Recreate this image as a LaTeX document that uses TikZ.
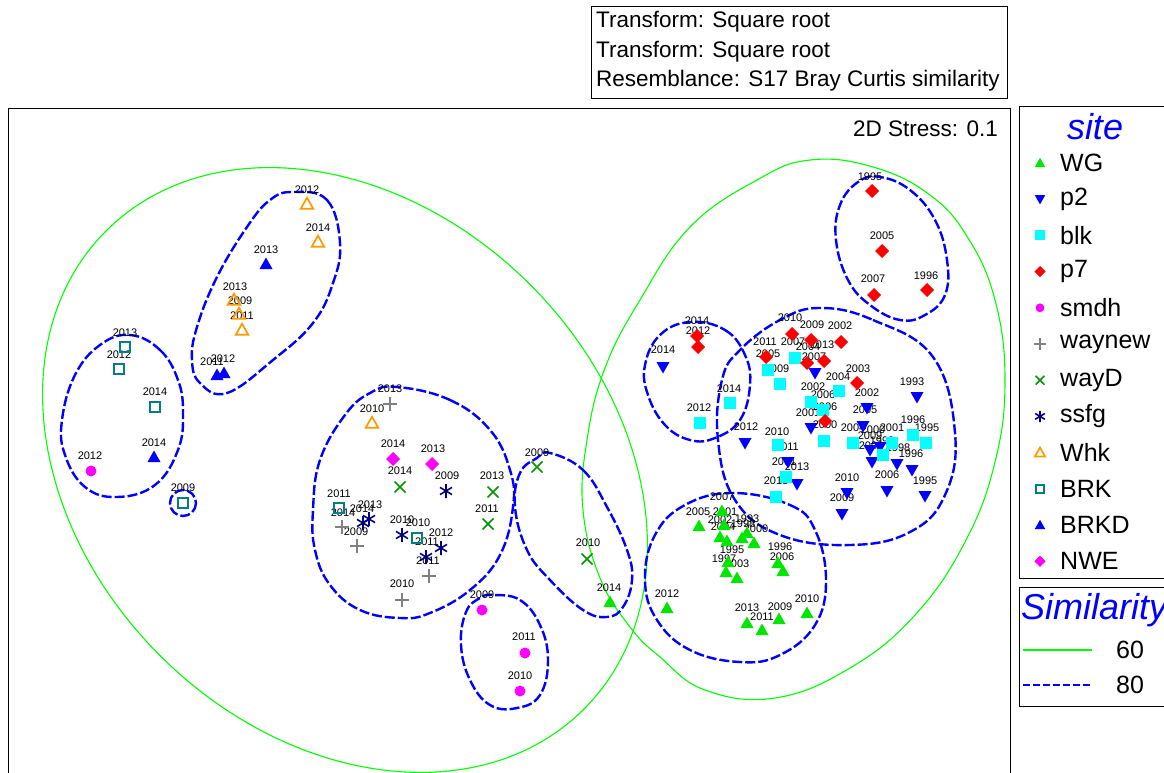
\documentclass[tikz,border=0pt]{standalone}
\usepackage{fontspec}
\setmainfont{Liberation Sans}
\definecolor{wgc}{RGB}{0,230,0}
\definecolor{lgreen}{RGB}{0,255,0}
\definecolor{bluec}{RGB}{0,0,255}
\definecolor{cyanc}{RGB}{0,255,255}
\definecolor{redc}{RGB}{255,0,0}
\definecolor{magc}{RGB}{255,0,255}
\definecolor{grayc}{RGB}{128,128,128}
\definecolor{wdc}{RGB}{0,150,0}
\definecolor{navyc}{RGB}{0,0,128}
\definecolor{orangec}{RGB}{255,153,0}
\definecolor{tealc}{RGB}{0,128,128}
\begin{document}
\begin{tikzpicture}[x=1pt,y=-1pt,
  lab/.style={font=\fontsize{11}{12}\selectfont,inner sep=0pt},
  legtext/.style={font=\fontsize{25}{26}\selectfont,inner sep=0pt,anchor=west},
  boxtext/.style={font=\fontsize{22.5}{24}\selectfont,inner sep=0pt,anchor=west},
  legtitle/.style={font=\fontsize{36}{38}\selectfont\itshape,text=bluec,inner sep=0pt},
  sim60/.style={draw=lgreen,line width=1.1pt},
  sim80/.style={draw=bluec,line width=2.4pt,dash pattern=on 10pt off 3pt},
  frame/.style={draw=black,line width=0.8pt},
  wg/.pic={\fill[wgc] (-6.5,5) -- (6.5,5) -- (0,-6.5) -- cycle;},
  ptwo/.pic={\fill[bluec] (-6.5,-5) -- (6.5,-5) -- (0,6.5) -- cycle;},
  blk/.pic={\fill[cyanc] (-6.3,-6.3) rectangle (6.3,6.3);},
  pseven/.pic={\fill[redc] (-7,0) -- (0,-7) -- (7,0) -- (0,7) -- cycle;},
  smdh/.pic={\fill[magc] (0,0) circle (5.5);},
  waynew/.pic={\draw[grayc,line width=1.6pt] (-7,0) -- (7,0) (0,-7) -- (0,7);},
  wayd/.pic={\draw[wdc,line width=1.6pt] (-5.5,-5.5) -- (5.5,5.5) (-5.5,5.5) -- (5.5,-5.5);},
  ssfg/.pic={\draw[navyc,line width=1.6pt] (0,-7) -- (0,7) (-6,-3.6) -- (6,3.6) (-6,3.6) -- (6,-3.6);},
  whk/.pic={\draw[orangec,line width=1.7pt,line join=miter] (-6.3,4.8) -- (6.3,4.8) -- (0,-6.3) -- cycle;},
  brk/.pic={\draw[tealc,line width=1.7pt] (-5,-5) rectangle (5,5);},
  brkd/.pic={\fill[bluec] (-6.5,5) -- (6.5,5) -- (0,-6.5) -- cycle;},
  nwe/.pic={\fill[magc] (-7,0) -- (0,-7) -- (7,0) -- (0,7) -- cycle;},
]
\useasboundingbox (0,0) rectangle (1164,773);
\clip (0,0) rectangle (1164,773);
\fill[white] (0,0) rectangle (1164,773);

% header box
\draw[frame] (591,6) rectangle (1007,98);
\node[boxtext] (h1) at (596,22) {Transform: Square root};
\node[boxtext] (h2) at (596,52) {Transform: Square root};
\node[boxtext] (h3) at (596,81) {Resemblance: S17 Bray Curtis similarity};

% plot frame
\draw[frame] (8,790) -- (8,108) -- (1010,108) -- (1010,790);
\node[boxtext,anchor=east] (stress) at (998,129) {2D Stress: 0.1};

% 60% contours
\draw[sim60,rotate around={-45:(345,470)}] (345,470) ellipse [x radius=338, y radius=262];
\draw[sim60] plot[smooth cycle,tension=0.7] coordinates {(810,160) (873,167) (930,195) (968,238) (995,300) (1005,380) (995,462) (965,542) (915,615) (850,668) (775,698) (705,690) (660,657) (630,627) (600,578) (583,510) (587,440) (605,368) (640,300) (690,227) (757,180)};

% 80% contours
\draw[sim80] plot[smooth cycle,tension=0.7] coordinates {(293,192) (327,200) (340,243) (333,283) (313,323) (273,360) (227,393) (200,383) (192,360) (197,327) (217,277) (247,227) (270,200)};
\draw[sim80] plot[smooth cycle,tension=0.7] coordinates {(130,335) (160,350) (178,380) (183,413) (178,450) (155,485) (117,497) (85,487) (65,455) (62,420) (75,375) (100,345)};
\draw[sim80] (183,503) circle (13);
\draw[sim80] plot[smooth cycle,tension=0.7] coordinates {(397,387) (450,400) (490,430) (510,470) (513,507) (500,555) (470,590) (430,613) (400,618) (360,610) (330,585) (315,550) (313,510) (320,460) (345,415) (370,393)};
\draw[sim80] plot[smooth cycle,tension=0.7] coordinates {(550,453) (583,470) (607,507) (627,550) (632,580) (623,607) (607,617) (583,610) (550,580) (527,550) (515,507) (520,473) (537,458)};
\draw[sim80] plot[smooth cycle,tension=0.7] coordinates {(493,595) (520,600) (540,625) (548,660) (540,695) (517,708) (490,705) (470,680) (461,645) (466,612) (480,598)};
\draw[sim80] plot[smooth cycle,tension=0.7] coordinates {(880,177) (910,190) (935,220) (947,260) (945,295) (925,315) (900,320) (870,305) (848,280) (836,240) (840,205) (858,182)};
\draw[sim80] plot[smooth cycle,tension=0.7] coordinates {(690,322) (725,330) (745,355) (750,385) (740,420) (715,438) (690,440) (665,425) (648,395) (645,365) (660,335)};
\draw[sim80] plot[smooth cycle,tension=0.7] coordinates {(820,308) (873,320) (933,357) (955,433) (945,495) (910,532) (850,545) (780,535) (735,500) (718,440) (722,380) (740,350) (780,320)};
\draw[sim80] plot[smooth cycle,tension=0.7] coordinates {(733,493) (790,505) (815,530) (826,580) (815,625) (780,655) (740,662) (690,650) (657,620) (645,580) (655,535) (685,505)};

% point labels
\foreach \t/\x/\y in {2012/307/190, 2014/318/228, 2013/235/287, 2009/240/301, 2011/242/316, 2010/372/409,
 2013/266/250, 2011/212/362, 2012/223/359, 2014/154/443,
 2013/125/333, 2012/119/355, 2014/155/392, 2009/183/488, 2011/339/494, 2010/418/523,
 2012/90/456, 2009/482/595, 2011/524/637, 2010/520/676,
 2014/393/444, 2013/433/449,
 2014/400/471, 2013/492/476, 2011/487/509, 2009/537/453, 2010/588/543,
 2009/447/476, 2013/370/505, 2014/362/509, 2010/402/520, 2012/441/533, 2011/427/542,
 2013/390/389, 2014/343/513, 2009/356/532, 2011/428/561, 2010/402/584,
 2007/722/497, 2005/698/512, 2001/725/512, 2002/720/520, 2004/723/527, 1993/747/519, 1998/743/524, 2000/756/529, 1995/732/550, 1997/724/559, 2003/737/564, 1996/780/547, 2006/782/557, 2012/667/594, 2013/747/608, 2011/762/617, 2009/780/607, 2010/807/599, 2014/609/588,
 1995/870/177, 2005/882/236, 2007/873/279, 1996/926/276, 2014/697/321, 2012/698/331, 2010/790/318, 2009/812/325, 2002/840/326, 2011/765/342, 2007/793/342, 2004/808/347, 2013/822/345, 2005/768/354, 2007/814/357, 2009/777/369, 2003/858/369, 2004/838/377, 2002/813/387, 2006/823/395, 2006/825/407, 2002/867/393, 2005/865/410, 2000/825/425, 2001/808/413,
 2014/663/350, 2014/729/389, 2012/699/408, 2012/746/427, 2010/777/432, 2011/787/447, 2001/784/462, 2013/797/467, 2013/776/481, 1993/912/382, 1996/913/420, 1995/927/428, 2001/892/428, 2004/853/428, 2000/873/430, 2009/870/436, 1999/882/441, 2003/871/446, 1998/898/448, 1996/911/454, 2006/887/475, 1995/925/481, 2010/847/478, 2009/842/498}
  \node[lab] at (\x,\y) {\t};

% markers
\foreach \x/\y in {722/511, 699/526, 724/525, 720/537, 727/541, 747/533, 742/538, 754/543, 728/562, 726/572, 737/578, 778/563, 783/571, 667/608, 747/623, 762/630, 779/619, 807/613, 610/602} \pic at (\x,\y) {wg};
\foreach \x/\y in {663/367, 745/443, 815/373, 811/428, 867/408, 863/426, 917/397, 870/450, 872/462, 880/447, 897/464, 912/470, 887/491, 925/496, 847/493, 842/514, 788/462, 797/484} \pic at (\x,\y) {ptwo};
\foreach \x/\y in {730/403, 700/423, 795/358, 768/370, 780/384, 839/391, 811/402, 823/410, 778/445, 824/441, 786/477, 776/497, 853/443, 892/443, 883/455, 913/435, 926/443} \pic at (\x,\y) {blk};
\foreach \x/\y in {872/191, 882/251, 874/295, 927/290, 697/336, 698/347, 792/334, 811/340, 841/342, 766/357, 807/363, 824/361, 857/383, 825/421} \pic at (\x,\y) {pseven};
\foreach \x/\y in {91/471, 482/610, 525/653, 520/691} \pic at (\x,\y) {smdh};
\foreach \x/\y in {390/404, 342/527, 357/546, 429/576, 402/600} \pic at (\x,\y) {waynew};
\foreach \x/\y in {400/487, 493/492, 488/524, 537/467, 587/559} \pic at (\x,\y) {wayd};
\foreach \x/\y in {446/491, 369/519, 363/523, 402/535, 441/548, 426/557} \pic at (\x,\y) {ssfg};
\foreach \x/\y in {307/204, 318/242, 234/300, 239/314, 242/330, 372/423} \pic at (\x,\y) {whk};
\foreach \x/\y in {125/347, 119/369, 155/407, 183/503, 339/508, 417/538} \pic at (\x,\y) {brk};
\foreach \x/\y in {266/264, 217/375, 224/373, 154/457} \pic at (\x,\y) {brkd};
\foreach \x/\y in {393/459, 432/464} \pic at (\x,\y) {nwe};

% legend: site
\draw[frame] (1019,106) rectangle (1175,578);
\node[legtitle] (sitet) at (1095,127) {site};
\foreach \p/\t [count=\i from 0] in {wg/WG, ptwo/p2, blk/blk, pseven/p7, smdh/smdh, waynew/waynew, wayd/wayD, ssfg/ssfg, whk/Whk, brk/BRK, brkd/BRKD, nwe/NWE}{
  \pic[scale=0.8] at (1040,163+36.2*\i) {\p};
  \node[legtext] at (1060,163+36.2*\i) {\t};
}

% legend: similarity
\draw[frame] (1019,587) rectangle (1175,706);
\node[legtitle,anchor=west] (simt) at (1021,610) {Similarity};
\coordinate (l60a) at (1023,650); \coordinate (l60b) at (1092,650);
\coordinate (l80a) at (1023,685); \coordinate (l80b) at (1092,685);
\draw[sim60] (l60a) -- (l60b);
\draw[draw=bluec,line width=1.4pt,dash pattern=on 7pt off 3pt] (l80a) -- (l80b);
\node[legtext] (t60) at (1116,650) {60};
\node[legtext] (t80) at (1116,685) {80};
\end{tikzpicture}
\end{document}
